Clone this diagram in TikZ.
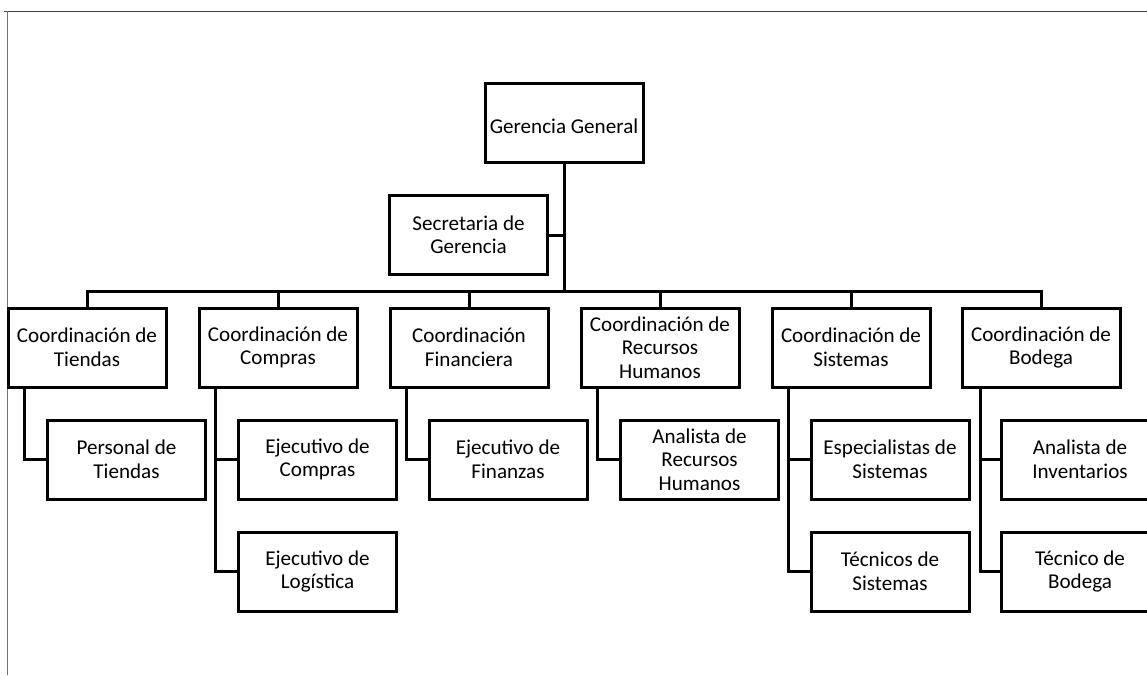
\documentclass[tikz,border=0pt]{standalone}
\usepackage{fontspec}
\setmainfont{Carlito}
\newcommand{\boxstrut}{\rule[-0.2pt]{0pt}{20.6pt}}
\begin{document}
\begin{tikzpicture}[x=1pt,y=-1pt,
  box/.style={draw=black, line width=3pt, minimum width=158pt, minimum height=79pt,
    inner sep=0pt, align=center, font=\fontsize{21.1}{23.5}\selectfont,
    execute at begin node=\boxstrut, execute at end node=\boxstrut},
  link/.style={draw=black, line width=3pt},
  frame/.style={draw=black!75, line width=1pt}]
\useasboundingbox (0,0) rectangle (1147,675);
\clip (0,0) rectangle (1147,675);
\fill[white] (0,0) rectangle (1147,675);
% frame lines
\draw[frame] (4,11) -- (1147,11);
\draw[frame, draw=black!55] (7,11) -- (7,675);
% top level
\node[box] (gg) at (564,123) {Gerencia General};
\node[box] (sec) at (468.5,235) {Secretaria de\\Gerencia};
\coordinate (bus) at (564,291);
% coordinators
\node[box] (c1) at (87,347.5) {Coordinación de\\Tiendas};
\node[box] (c2) at (278,347.5) {Coordinación de\\Compras};
\node[box] (c3) at (469,347.5) {Coordinación\\Financiera};
\node[box] (c4) at (660,347.5) {Coordinación de\\Recursos\\Humanos};
\node[box] (c5) at (851,347.5) {Coordinación de\\Sistemas};
\node[box] (c6) at (1041,347.5) {Coordinación de\\Bodega};
% subordinates
\node[box] (s1) at (126.5,459.5) {Personal de\\Tiendas};
\node[box] (s2) at (317.5,459.5) {Ejecutivo de\\Compras};
\node[box] (s2b) at (317.5,571.5) {Ejecutivo de\\Logística};
\node[box] (s3) at (508,459.5) {Ejecutivo de\\Finanzas};
\node[box] (s4) at (699.5,459.5) {Analista de\\Recursos\\Humanos};
\node[box] (s5) at (890,459.5) {Especialistas de\\Sistemas};
\node[box] (s5b) at (890,571.5) {Técnicos de\\Sistemas};
\node[box] (s6) at (1080,459.5) {Analista de\\Inventarios};
\node[box] (s6b) at (1080,571.5) {Técnico de\\Bodega};
% connectors
\draw[link] (gg.south) -- (bus);
\draw[link] (sec.east) -- (sec.east -| gg.south);
\foreach \c in {c1,c2,c3,c4,c5,c6} {
  \draw[link] (\c.north) |- (bus);
}
\draw[link] ([xshift=-63pt]c1.south) |- (s1.west);
\draw[link] ([xshift=-63pt]c2.south) |- (s2.west);
\draw[link] ([xshift=-63pt]c2.south) |- (s2b.west);
\draw[link] ([xshift=-63pt]c3.south) |- (s3.west);
\draw[link] ([xshift=-63pt]c4.south) |- (s4.west);
\draw[link] ([xshift=-63pt]c5.south) |- (s5.west);
\draw[link] ([xshift=-63pt]c5.south) |- (s5b.west);
\draw[link] ([xshift=-61pt]c6.south) |- (s6.west);
\draw[link] ([xshift=-61pt]c6.south) |- (s6b.west);
\end{tikzpicture}
\end{document}
